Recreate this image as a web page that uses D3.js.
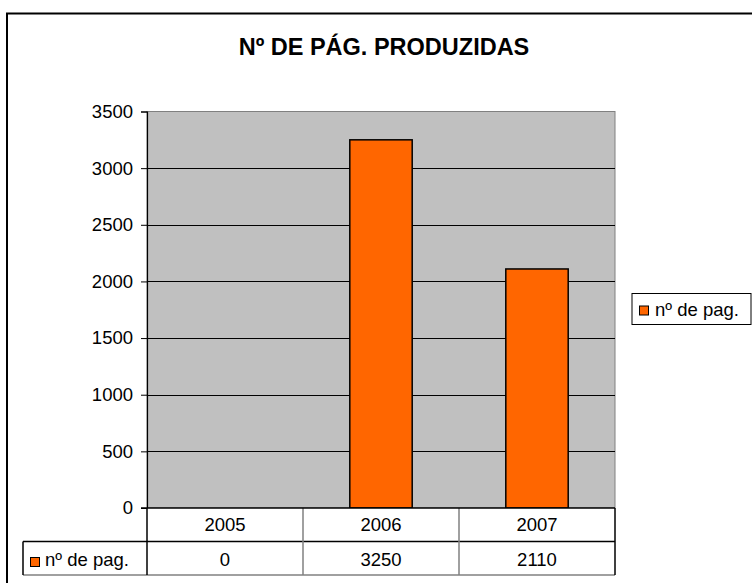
<!DOCTYPE html>
<html>
<head>
<meta charset="utf-8">
<script src="https://cdn.jsdelivr.net/npm/d3@7"></script>
<style>
  html, body { margin: 0; padding: 0; background: #fff; }
  svg { display: block; font-family: Arial, "Liberation Sans", sans-serif; }
</style>
</head>
<body>
<svg id="chart" width="752" height="583"></svg>
<script>
// Pages produced per year
const years = ["2005", "2006", "2007"];
const pages = [0, 3250, 2110];
const seriesName = "nº de pag.";
const yTicks = [0, 500, 1000, 1500, 2000, 2500, 3000, 3500];
const title = "Nº DE PÁG. PRODUZIDAS";

const svg = d3.select("#chart");
const W = 752, H = 583;
const plot = { left: 147, right: 615, top: 111.5, bottom: 508 };
const rowH = 33.5;
const tableLeft = 23;
const barColor = "#FF6600";
const fontSize = 18.5;

// Outer chart frame (runs off the right and bottom edges)
svg.append("rect")
  .attr("x", 7).attr("y", 13.5)
  .attr("width", W + 10).attr("height", H + 10)
  .attr("fill", "#fff").attr("stroke", "#000").attr("stroke-width", 2);

// Title
svg.append("text")
  .attr("x", 384).attr("y", 55)
  .attr("text-anchor", "middle")
  .attr("font-weight", "bold")
  .attr("font-size", 23.5)
  .text(title);

const x = d3.scaleBand().domain(years)
  .range([plot.left, plot.right]).paddingInner(0).paddingOuter(0);
const y = d3.scaleLinear().domain([0, 3500]).range([plot.bottom, plot.top]);

// Plot background
svg.append("rect")
  .attr("x", plot.left).attr("y", plot.top)
  .attr("width", plot.right - plot.left).attr("height", plot.bottom - plot.top)
  .attr("fill", "#C0C0C0").attr("stroke", "#808080").attr("stroke-width", 1);

// Gridlines
svg.append("g").selectAll("line")
  .data(yTicks.filter(t => t > 0 && t < 3500))
  .join("line")
  .attr("x1", plot.left).attr("x2", plot.right)
  .attr("y1", d => Math.round(y(d)) + 0.5).attr("y2", d => Math.round(y(d)) + 0.5)
  .attr("stroke", "#000").attr("stroke-width", 1);

// Bars
const barW = x.bandwidth() * 0.4;
svg.append("g").selectAll("rect")
  .data(years.map((yr, i) => ({ yr, v: pages[i] })))
  .join("rect")
  .attr("x", d => x(d.yr) + (x.bandwidth() - barW) / 2)
  .attr("y", d => y(d.v))
  .attr("width", barW)
  .attr("height", d => y(0) - y(d.v))
  .attr("fill", barColor)
  .attr("stroke", "#000").attr("stroke-width", d => d.v > 0 ? 1.5 : 0);

// Y axis
const yAxis = svg.append("g")
  .attr("transform", `translate(${plot.left},0)`)
  .call(d3.axisLeft(y).tickValues(yTicks).tickSize(6).tickPadding(8).tickFormat(d3.format("d")));
yAxis.select(".domain").attr("stroke", "#000").attr("stroke-width", 1.2);
yAxis.selectAll(".tick line").attr("stroke", "#000");
yAxis.selectAll(".tick text")
  .attr("font-size", fontSize).attr("font-family", "Arial, 'Liberation Sans', sans-serif")
  .attr("fill", "#000");

// Data table below the plot
const tbl = svg.append("g");
const r1 = plot.bottom, r2 = plot.bottom + rowH, r3 = plot.bottom + 2 * rowH;

tbl.append("rect").attr("x", plot.left).attr("y", r1)
  .attr("width", plot.right - plot.left).attr("height", 2 * rowH).attr("fill", "#fff");
tbl.append("rect").attr("x", tableLeft).attr("y", r2)
  .attr("width", plot.left - tableLeft).attr("height", rowH).attr("fill", "#fff");

const hl = (x1, x2, yy, c) => tbl.append("line")
  .attr("x1", x1).attr("x2", x2).attr("y1", yy).attr("y2", yy)
  .attr("stroke", c).attr("stroke-width", 1.5);
const vl = (xx, y1, y2, c) => tbl.append("line")
  .attr("x1", xx).attr("x2", xx).attr("y1", y1).attr("y2", y2)
  .attr("stroke", c).attr("stroke-width", 1.5);

hl(tableLeft, plot.right, r2, "#000");
hl(tableLeft, plot.right, r3, "#808080");
vl(tableLeft, r2, r3, "#000");
years.slice(1).forEach(yr => vl(x(yr), r1, r3, "#808080"));
vl(plot.right, r1, r3, "#000");
vl(plot.left, r1, r3, "#000");
// x axis baseline
hl(plot.left - 6, plot.right, plot.bottom, "#000");

tbl.selectAll("text.cat")
  .data(years).join("text").attr("class", "cat")
  .attr("x", d => x(d) + x.bandwidth() / 2)
  .attr("y", r1 + 23)
  .attr("text-anchor", "middle")
  .attr("font-size", fontSize)
  .text(d => d);

tbl.selectAll("text.val")
  .data(years.map((yr, i) => ({ yr, v: pages[i] })))
  .join("text").attr("class", "val")
  .attr("x", d => x(d.yr) + x.bandwidth() / 2)
  .attr("y", r2 + 24)
  .attr("text-anchor", "middle")
  .attr("font-size", fontSize)
  .text(d => d.v);

// Series key inside the table
tbl.append("rect").attr("x", 30.5).attr("y", 557.5).attr("width", 9).attr("height", 9)
  .attr("fill", barColor).attr("stroke", "#000").attr("stroke-width", 1);
tbl.append("text").attr("x", 45).attr("y", r2 + 24)
  .attr("font-size", fontSize).text(seriesName);

// Legend
const lg = svg.append("g");
lg.append("rect").attr("x", 632).attr("y", 293.5).attr("width", 119).attr("height", 31)
  .attr("fill", "#fff").attr("stroke", "#000").attr("stroke-width", 1);
lg.append("rect").attr("x", 639.5).attr("y", 306).attr("width", 9).attr("height", 9)
  .attr("fill", barColor).attr("stroke", "#000").attr("stroke-width", 1);
lg.append("text").attr("x", 655).attr("y", 316)
  .attr("font-size", fontSize).text(seriesName);
</script>
</body>
</html>
